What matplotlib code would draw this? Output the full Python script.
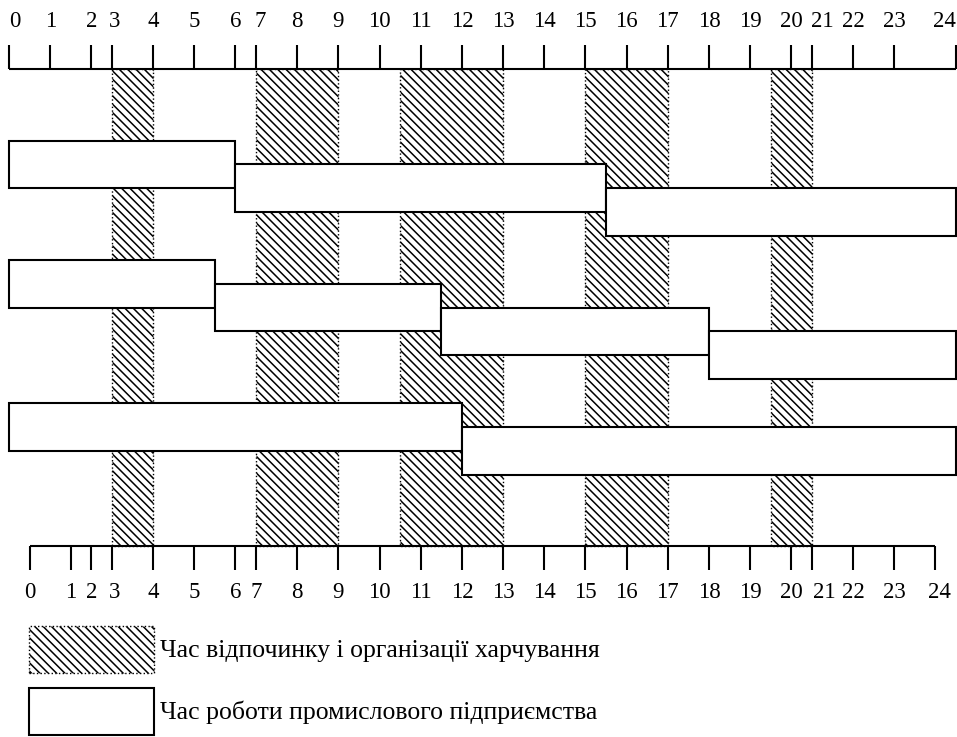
import matplotlib
matplotlib.use("Agg")
import matplotlib.pyplot as plt
import numpy as np
from matplotlib.patches import Patch

plt.rcParams['font.family'] = ['Liberation Serif', 'DejaVu Serif']
plt.rcParams['hatch.linewidth'] = 1.1

# hour labels and where they sit on the (irregular) axis, in tick steps
HOURS = list(range(25))
TOP_STEPS = [0, 1, 2, 2.5, 3.5, 4.5, 5.5, 6, 7, 8, 9, 10, 11, 12, 13, 14, 15,
             16, 17, 18, 19, 19.5, 20.5, 21.5, 23]
BOTTOM_STEPS = [0.5, 1.5, 2, 2.5, 3.5, 4.5, 5.5, 6, 7, 8, 9, 10, 11, 12, 13,
                14, 15, 16, 17, 18, 19, 19.5, 20.5, 21.5, 22.5]

# rest / meal breaks (hours)
REST_START = [3, 7, 10.5, 15, 19.5]
REST_END = [4, 9, 13, 17, 21]

# working shifts (hours) and the lane each one is drawn in
SHIFT_START = [0, 6, 15.5, 0, 5.5, 11.5, 18, 0, 12]
SHIFT_END = [6, 15.5, 24, 5.5, 11.5, 18, 24, 12, 24]
SHIFT_LANE = [3, 4, 5, 8, 9, 10, 11, 14, 15]

LEGEND_LABELS = ['Час відпочинку і організації харчування',
                 'Час роботи промислового підприємства']

# small horizontal shifts of some tick labels (pixels), as in the original
TOP_NUDGE = {0: 6, 3: 3, 7: 4, 21: 10, 24: -12}
BOTTOM_NUDGE = {3: 3, 21: 12, 24: 4}

H = np.array(HOURS, dtype=float)
S = np.array(TOP_STEPS, dtype=float)


def fwd(h):
    h = np.asarray(h, dtype=float)
    s = np.interp(h, H, S)
    s = np.where(h < 0, h, s)
    s = np.where(h > 24, S[-1] + (h - 24), s)
    return s


def inv(s):
    s = np.asarray(s, dtype=float)
    h = np.interp(s, S, H)
    h = np.where(s < 0, s, h)
    h = np.where(s > S[-1], 24 + (s - S[-1]), h)
    return h


fig = plt.figure(figsize=(9.57, 7.37), dpi=100)
ax = fig.add_axes([0, 0, 1, 1])
ax.set_xscale('function', functions=(fwd, inv))
ax.set_xlim(-0.219, 24.024)
ax.set_ylim(28.0, -2.89)
ax.axis('off')

hatch = '\\\\\\\\'

# break bands
ax.bar(REST_START, 20, width=np.array(REST_END) - np.array(REST_START),
       bottom=0, align='edge', facecolor='white', edgecolor='black',
       hatch=hatch, linestyle=':', linewidth=1.0, zorder=1)

# shifts
ax.barh(np.array(SHIFT_LANE) + 1, np.array(SHIFT_END) - np.array(SHIFT_START),
        left=SHIFT_START, height=2, facecolor='white', edgecolor='black',
        linewidth=1.5, zorder=2)

# top axis
ax.hlines(0, HOURS[0], HOURS[-1], color='black', lw=1.5, zorder=3)
ax.vlines(HOURS, -1, 0, color='black', lw=1.5, zorder=3)
for h in HOURS:
    ax.annotate(str(h), (h, -2.0), xytext=(TOP_NUDGE.get(h, 0) * 0.72, 0),
                textcoords='offset points', ha='center', va='center',
                fontsize=16.5)

# bottom axis
bx = inv(BOTTOM_STEPS)
ax.hlines(20, bx[0], bx[-1], color='black', lw=1.5, zorder=3)
ax.vlines(bx, 20, 21, color='black', lw=1.5, zorder=3)
for h, x in zip(HOURS, bx):
    ax.annotate(str(h), (x, 21.95), xytext=(BOTTOM_NUDGE.get(h, 0) * 0.72, 0),
                textcoords='offset points', ha='center', va='center',
                fontsize=16.5)

handles = [Patch(facecolor='white', edgecolor='black', hatch=hatch,
                 linestyle=':', linewidth=1.0),
           Patch(facecolor='white', edgecolor='black', linewidth=1.5)]
lfs = 18.5
fs = lfs * 100 / 72
hh = (47 / fs - 0.245) / 0.65
ax.legend(handles, LEGEND_LABELS, loc='upper left',
          bbox_to_anchor=(29 / 957, 1 - 626 / 737), bbox_transform=fig.transFigure,
          frameon=False, fontsize=lfs, borderpad=0, borderaxespad=0,
          handlelength=125 / fs, handleheight=hh, handletextpad=6 / fs,
          labelspacing=15 / fs)

fig.savefig('out.png', dpi=100)
